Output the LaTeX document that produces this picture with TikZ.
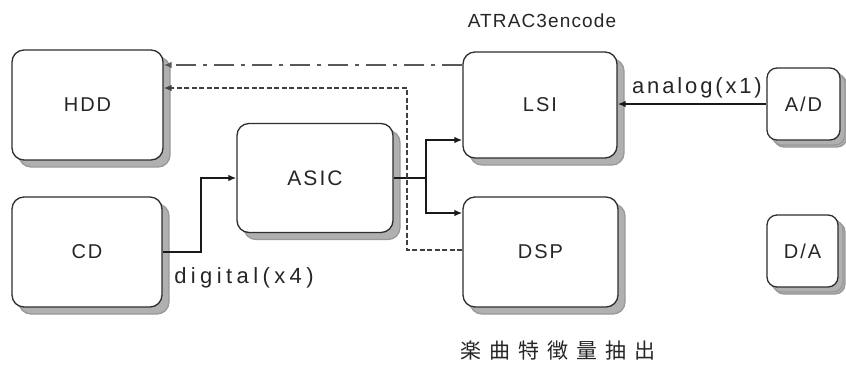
\documentclass[tikz,border=0pt]{standalone}
\usepackage{fontspec}
\setmainfont{Liberation Sans}[LetterSpace=10]
\newfontfamily\tagfont{Liberation Sans}[LetterSpace=13]
\newfontfamily\widetagfont{Liberation Sans}[LetterSpace=20]
\newfontfamily\titlefont{Liberation Sans}[LetterSpace=6]
\newfontfamily\jpfont{Noto Sans CJK JP}[LetterSpace=38]
\usetikzlibrary{arrows.meta,shadows}
\definecolor{edge}{HTML}{2E2E2E}
\definecolor{shade}{HTML}{B0B0B0}
\tikzset{
  unit/.style={draw=edge, line width=1.3pt, fill=white, rounded corners=12pt,
    inner sep=0pt, font=\fontsize{20}{24}\selectfont, text=black!85,
    drop shadow={shadow xshift=7pt, shadow yshift=-7pt, fill=shade, draw=black!40, opacity=1}},
  smallunit/.style={unit, rounded corners=10pt,
    drop shadow={shadow xshift=5pt, shadow yshift=-5pt, fill=shade, draw=black!40, opacity=1}},
  wire/.style={draw=black!90, line width=2pt},
  arr/.style={wire, -{Latex[length=8pt,width=6.5pt]}},
  tag/.style={font=\tagfont\fontsize{22}{26}\selectfont, text=black!85, inner sep=0pt}
}
\begin{document}
\begin{tikzpicture}[x=1pt, y=-1pt]
  \fill[white] (0,0) rectangle (846,365);
  \useasboundingbox (0,0) rectangle (846,365);

  % units
  \node[unit, minimum width=151pt, minimum height=110pt] (hdd) at (87.5,105) {HDD};
  \node[unit, minimum width=150pt, minimum height=110pt] (cd) at (87,252) {CD};
  \node[unit, minimum width=156pt, minimum height=109pt] (asic) at (315,178) {\fontsize{21}{25}\selectfont ASIC};
  \node[unit, minimum width=154pt, minimum height=106pt] (lsi) at (540,105) {LSI};
  \node[unit, minimum width=155pt, minimum height=110pt] (dsp) at (540.5,252) {DSP};
  \node[smallunit, minimum width=73pt, minimum height=72pt] (ad) at (803.5,104) {A/D};
  \node[smallunit, minimum width=71pt, minimum height=72pt] (da) at (802.5,251) {D/A};

  % connectors
  \draw[arr] (cd.east) -- ++(38,0) |- (asic.west);
  \draw[wire] (asic.east) -- ++(32,0) coordinate (split);
  \draw[arr] (split) |- ([yshift=-35pt]lsi.west);
  \draw[arr] (split) |- ([yshift=39pt]dsp.west);
  \draw[arr, line width=1.7pt, draw=black!65, dash pattern=on 20pt off 7pt on 4pt off 7pt]
    ([yshift=40pt]lsi.west) -- ([yshift=40pt]hdd.east);
  \draw[arr, line width=1.8pt, draw=black!75, dash pattern=on 5pt off 2.5pt]
    ([yshift=2pt]dsp.west) -- ++(-55,0) |- ([yshift=17pt]hdd.east);
  \draw[arr] (ad.west) -- (lsi.east |- ad.west);

  % labels
  \node[tag] (analog) at (697,88) {analog(x1)};
  \node[tag, font=\widetagfont\fontsize{22}{26}\selectfont] (digital) at (244,278) {digital(x4)};
  \node[tag, font=\titlefont\fontsize{19}{23}\selectfont] (enc) at (542,21) {ATRAC3encode};
  \node[tag] (feat) at (558,351) {\jpfont\fontsize{21}{25}\selectfont 楽曲特徴量抽出};
\end{tikzpicture}
\end{document}
